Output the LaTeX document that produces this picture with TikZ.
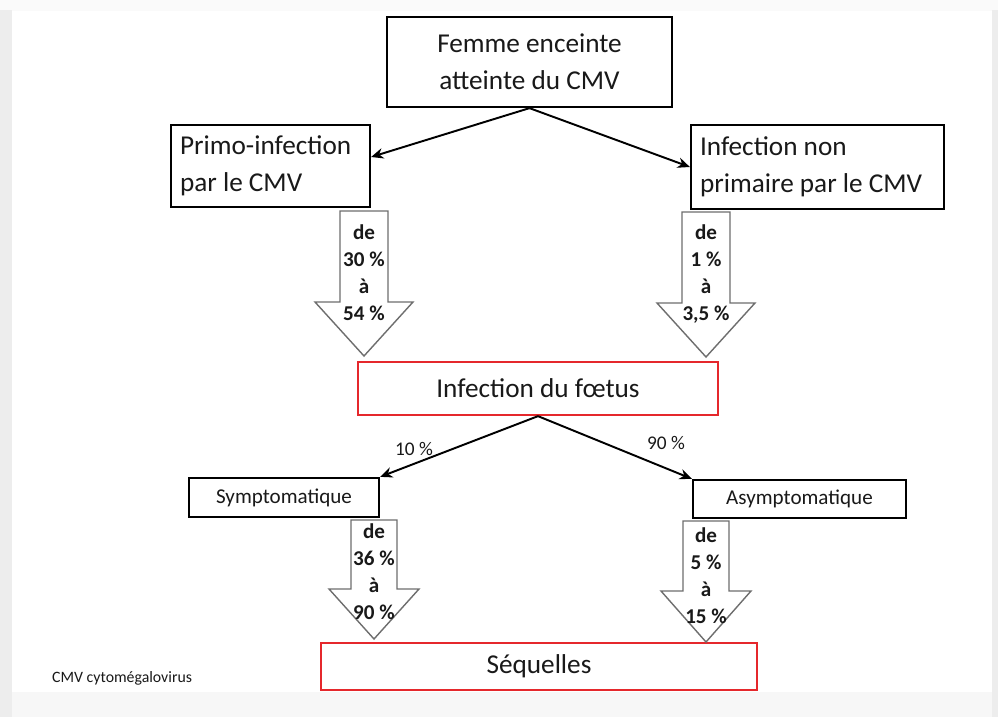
\documentclass[tikz,border=0pt]{standalone}
\usepackage{fontspec}
\setmainfont{Carlito}
\usetikzlibrary{arrows.meta}
\definecolor{boxred}{HTML}{E5282C}
\definecolor{arrowgray}{HTML}{6E6E6E}

\begin{document}
\begin{tikzpicture}[
    x=0.02cm, y=-0.02cm,
    box/.style={draw, line width=1.3pt, text=black!90, font=\fontsize{15.5}{21}\selectfont},
    redbox/.style={draw=boxred, line width=1.3pt, text=black!90, font=\fontsize{15.5}{21}\selectfont},
    smallbox/.style={draw, line width=1.3pt, text=black!90, font=\fontsize{12}{14}\selectfont},
    link/.style={line width=1.1pt, -{Stealth[length=7pt,width=6pt]}},
    bigarrow/.style={draw=arrowgray, line width=0.8pt, fill=white},
    pct/.style={align=center, text=black!90, font=\fontsize{12}{15.4}\selectfont\bfseries},
    share/.style={text=black!90, font=\fontsize{11}{12}\selectfont}
    ]
	% frame of the slide
	\fill[black!2] (0,0) rectangle (998,717);
	\fill[black!7] (0,10) rectangle (12,717);
	\fill[black!7] (992,10) rectangle (998,717);
	\fill[white] (12,11) rectangle (992,692);
	\fill[black!3] (12,692) rectangle (992,717);

	% boxes
	\node[box, minimum width=5.7cm, minimum height=1.8cm, align=center] (femme) at (529.5,62) {Femme enceinte\\atteinte du CMV};
	\node[box, text width=3.62cm, inner xsep=0.18cm, minimum height=1.64cm, align=flush left] (primo) at (270.5,166) {Primo-infection\\par le CMV};
	\node[box, text width=4.7cm, inner xsep=0.18cm, minimum height=1.68cm, align=flush left] (nonprim) at (817.5,167) {Infection non\\primaire par le CMV};
	\node[redbox, minimum width=7.2cm, minimum height=1.06cm] (foetus) at (538,388.5) {Infection du fœtus};
	\node[smallbox, minimum width=3.8cm, minimum height=0.78cm] (sympto) at (284,497.5) {Symptomatique};
	\node[smallbox, minimum width=4.26cm, minimum height=0.76cm] (asympto) at (799.5,499) {Asymptomatique};
	\node[redbox, minimum width=8.72cm, minimum height=0.94cm] (sequelles) at (539,666.5) {Séquelles};

	% thin arrows
	\draw[link] (femme.south) -- ([yshift=0.18cm]primo.east);
	\draw[link] (femme.south) -- (nonprim.west);
	\draw[link] (foetus.south) -- (sympto.north east);
	\draw[link] (foetus.south) -- (asympto.north west);
	\node[share] (p10) at (414,449) {10 \%};
	\node[share] (p90) at (666,443) {90 \%};

	% block arrows
	\foreach \x/\yt/\yb/\w/\hw/\yp in {364/211/302/24/49/356, 706/212/303/24/49/357, 374/520/589/23/45/639, 706/521/591/23/45/642}
		\draw[bigarrow] (\x-\w,\yt) -- (\x+\w,\yt) -- (\x+\w,\yb) -- (\x+\hw,\yb) -- (\x,\yp) -- (\x-\hw,\yb) -- (\x-\w,\yb) -- cycle;
	\node[pct] (r1) at (364,273) {de\\30 \%\\à\\54 \%};
	\node[pct] (r2) at (706,274) {de\\1 \%\\à\\3,5 \%};
	\node[pct] (r3) at (374,572) {de\\36 \%\\à\\90 \%};
	\node[pct] (r4) at (706,576) {de\\5 \%\\à\\15 \%};

	\node[anchor=west, text=black!90, font=\fontsize{9}{11}\selectfont] (legend) at (46,678) {CMV cytomégalovirus};
\end{tikzpicture}
\end{document}
